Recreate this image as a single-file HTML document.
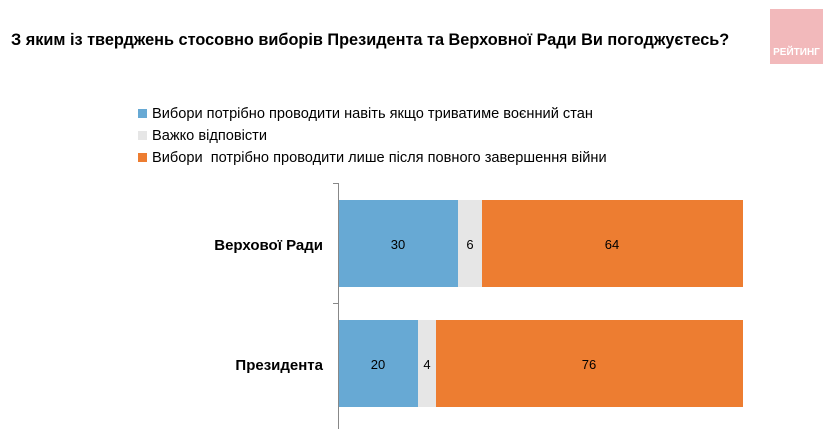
<html><body style="margin:0;width:831px;height:429px;background:#fff;position:relative;font-family:'Liberation Sans',sans-serif;overflow:hidden">
<div style="position:absolute;left:11px;top:31px;font-size:16.3px;font-weight:bold;color:#000;white-space:nowrap">З яким із тверджень стосовно виборів Президента та Верховної Ради Ви погоджуєтесь?</div>
<div style="position:absolute;left:770px;top:9px;width:53px;height:55px;background:#f2b9bb"></div>
<div style="position:absolute;left:770px;top:47px;width:53px;text-align:center;color:#fff;font-weight:bold;font-size:10px">РЕЙТИНГ</div>
<div style="position:absolute;left:138px;top:103px;font-size:14.6px;line-height:22px;color:#000;white-space:nowrap">
<div><span style="display:inline-block;width:9px;height:9px;background:#67a9d4;margin-right:5px"></span>Вибори потрібно проводити навіть якщо триватиме воєнний стан</div>
<div><span style="display:inline-block;width:9px;height:9px;background:#e6e6e6;margin-right:5px"></span>Важко відповісти</div>
<div><span style="display:inline-block;width:9px;height:9px;background:#ed7d31;margin-right:5px"></span>Вибори&nbsp; потрібно проводити лише після повного завершення війни</div>
</div>
<svg width="831" height="429" style="position:absolute;left:0;top:0" font-family="Liberation Sans" font-size="13">
<line x1="338.5" y1="183" x2="338.5" y2="429" stroke="#888"/>
<line x1="333" y1="183.5" x2="338" y2="183.5" stroke="#888"/>
<line x1="333" y1="303.5" x2="338" y2="303.5" stroke="#888"/>
<rect x="339" y="200" width="119" height="87" fill="#67a9d4"/>
<rect x="458" y="200" width="24" height="87" fill="#e6e6e6"/>
<rect x="482" y="200" width="261" height="87" fill="#ed7d31"/>
<rect x="339" y="320" width="79" height="87" fill="#67a9d4"/>
<rect x="418" y="320" width="18" height="87" fill="#e6e6e6"/>
<rect x="436" y="320" width="307" height="87" fill="#ed7d31"/>
<g text-anchor="middle" font-size="13">
<text x="398" y="249">30</text><text x="470" y="249">6</text><text x="612" y="249">64</text>
<text x="378" y="369">20</text><text x="427" y="369">4</text><text x="589" y="369">76</text>
</g>
<g text-anchor="end" font-weight="bold" font-size="15">
<text x="323" y="250">Верхової Ради</text>
<text x="323" y="370">Президента</text>
</g>
</svg>
</body></html>
